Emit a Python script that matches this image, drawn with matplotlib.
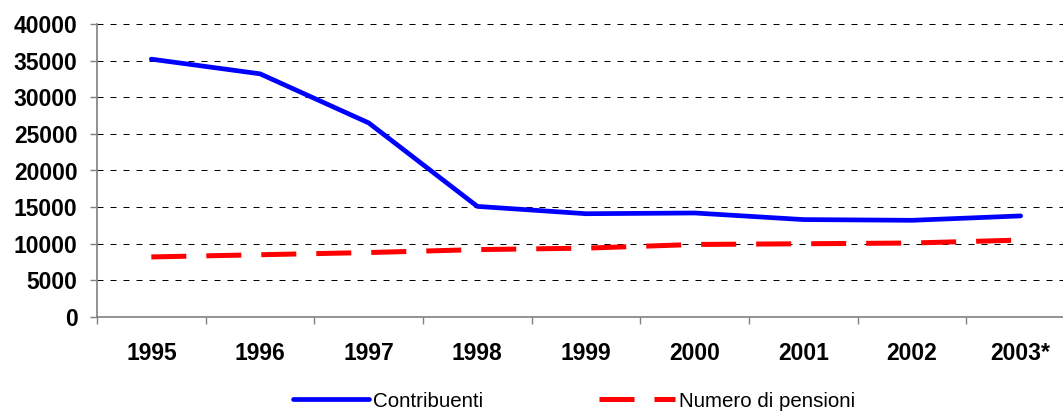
import matplotlib
matplotlib.use("Agg")
import matplotlib.pyplot as plt
from matplotlib.ticker import FixedLocator, NullFormatter

plt.rcParams['font.family'] = ['Liberation Sans', 'DejaVu Sans']

years = ['1995', '1996', '1997', '1998', '1999', '2000', '2001', '2002', '2003*']
contribuenti = [35200, 33200, 26500, 15100, 14100, 14200, 13300, 13200, 13800]
pensioni = [8200, 8500, 8800, 9200, 9400, 9900, 10000, 10100, 10500]
y_ticks = [0, 5000, 10000, 15000, 20000, 25000, 30000, 35000, 40000]

W, H = 1063, 411
fig = plt.figure(figsize=(W / 100, H / 100), dpi=100)
ax = fig.add_axes([97 / W, (H - 317) / H, 978 / W, (317 - 24) / H])

x = list(range(len(years)))
ax.plot(x, contribuenti, color='#0000FF', lw=3.4, solid_capstyle='round',
        solid_joinstyle='round', label='Contribuenti', zorder=3)
ax.plot(x, pensioni, color='#FF0000', lw=3.6, dashes=(7, 4),
        dash_capstyle='butt', label='Numero di pensioni', zorder=3)

ax.set_xlim(-0.5, len(years) - 0.5)
ax.set_ylim(0, 40000)

# category boundaries carry the tick marks, labels sit at the centres
ax.xaxis.set_major_locator(FixedLocator([i - 0.5 for i in range(len(years) + 1)]))
ax.xaxis.set_major_formatter(NullFormatter())
ax.xaxis.set_minor_locator(FixedLocator(x))
ax.set_xticklabels(years, minor=True)
ax.tick_params(axis='x', which='major', direction='out', length=5, width=1, color='#808080')
ax.tick_params(axis='x', which='minor', length=0, pad=18, labelsize=16.5)
for lbl in ax.get_xticklabels(minor=True):
    lbl.set_fontweight('bold')

ax.set_yticks(y_ticks)
ax.set_yticklabels([str(v) for v in y_ticks])
ax.tick_params(axis='y', direction='out', length=5, width=1, color='#808080',
               pad=9, labelsize=16.5)
for lbl in ax.get_yticklabels():
    lbl.set_fontweight('bold')

ax.grid(axis='y', which='major', color='black', lw=0.72, linestyle=(0, (6, 7)))
ax.set_axisbelow(True)

for side in ('top', 'right'):
    ax.spines[side].set_visible(False)
for side in ('left', 'bottom'):
    ax.spines[side].set_color('#808080')
    ax.spines[side].set_linewidth(1.2)

fig.legend(loc='center', bbox_to_anchor=(574 / W, (H - 401) / H), ncol=2,
           frameon=False, fontsize=14.8, handlelength=3.7, handletextpad=0.2,
           columnspacing=5.6, borderpad=0, borderaxespad=0)

fig.savefig('out.png', dpi=100)
